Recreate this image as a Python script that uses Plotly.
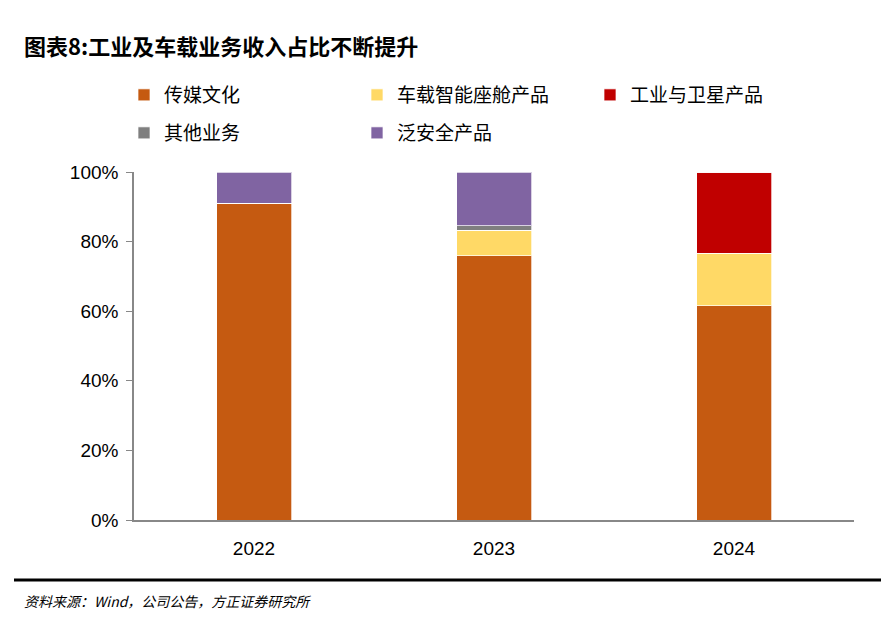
import plotly.graph_objects as go

years = ["2022", "2023", "2024"]
series_names = ["传媒文化", "车载智能座舱产品", "工业与卫星产品", "其他业务", "泛安全产品"]
media = [91.0, 76.0, 61.5]
auto = [0.0, 7.3, 15.2]
industrial = [0.0, 0.0, 23.3]
other = [0.0, 1.3, 0.0]
security = [9.0, 15.4, 0.0]
colors = ["#C55A11", "#FFD966", "#C00000", "#7F7F7F", "#8064A2"]
legend_rows = ["legend", "legend", "legend", "legend2", "legend2"]
yticks = [0, 20, 40, 60, 80, 100]
ytick_labels = ["0%", "20%", "40%", "60%", "80%", "100%"]

values = [media, auto, industrial, other, security]

# page offset (body margin) compensation
OFF = 8
FW, FH = 890 - OFF, 634 - OFF
L, R, T, B = 134 - OFF, 36, 172 - OFF, 114
W = FW - L - R
H = FH - T - B


def px(pix):
    return (pix - OFF - L) / W


def py(pix):
    return (FH - B - (pix - OFF)) / H


fig = go.Figure()
for name, vals, col, lg in zip(series_names, values, colors, legend_rows):
    fig.add_trace(go.Bar(
        x=years, y=vals, name=name, legend=lg,
        marker=dict(color=col, line=dict(color="rgba(255,255,255,0.7)", width=1)),
        width=0.3125,
    ))

cjk = "Noto Sans CJK SC"
leg_common = dict(
    orientation="h", xanchor="left", yanchor="middle",
    entrywidth=188, entrywidthmode="pixels",
    font=dict(family=cjk, size=19, color="#000000"),
    itemwidth=30, traceorder="normal", bgcolor="rgba(0,0,0,0)",
)
fig.update_layout(
    barmode="stack",
    width=FW, height=FH,
    margin=dict(l=L, r=R, t=T, b=B),
    plot_bgcolor="white", paper_bgcolor="white",
    showlegend=True,
    legend=dict(**leg_common, x=px(124), y=py(95)),
    legend2=dict(**leg_common, x=px(124), y=py(133)),
    xaxis=dict(
        showline=True, linecolor="#888888", linewidth=1.5,
        ticks="", tickfont=dict(family="Liberation Sans", size=19, color="#000"),
        ticklabelstandoff=10,
        range=[-0.5, 2.5],
    ),
    yaxis=dict(
        range=[0, 100], tickvals=yticks, ticktext=ytick_labels,
        showline=True, linecolor="#888888", linewidth=1.5,
        ticks="outside", ticklen=6, tickcolor="#888888",
        showgrid=False, zeroline=False, ticklabelstandoff=4,
        tickfont=dict(family="Liberation Sans", size=19, color="#000"),
    ),
)

fig.add_annotation(
    text="<b>图表8:工业及车载业务收入占比不断提升</b>", xref="paper", yref="paper",
    x=px(22), y=py(45), xanchor="left", yanchor="middle", showarrow=False,
    font=dict(family=cjk, size=22, color="#000"),
)
fig.add_shape(type="line", xref="paper", yref="paper", x0=px(14), x1=px(881),
              y0=py(580), y1=py(580), line=dict(color="#000", width=3))
fig.add_annotation(
    text="<i>资料来源：Wind，公司公告，方正证券研究所</i>", xref="paper", yref="paper",
    x=px(22), y=py(601), xanchor="left", yanchor="middle", showarrow=False,
    font=dict(family=cjk, size=14, color="#000"),
)

fig.write_html("out.html")
